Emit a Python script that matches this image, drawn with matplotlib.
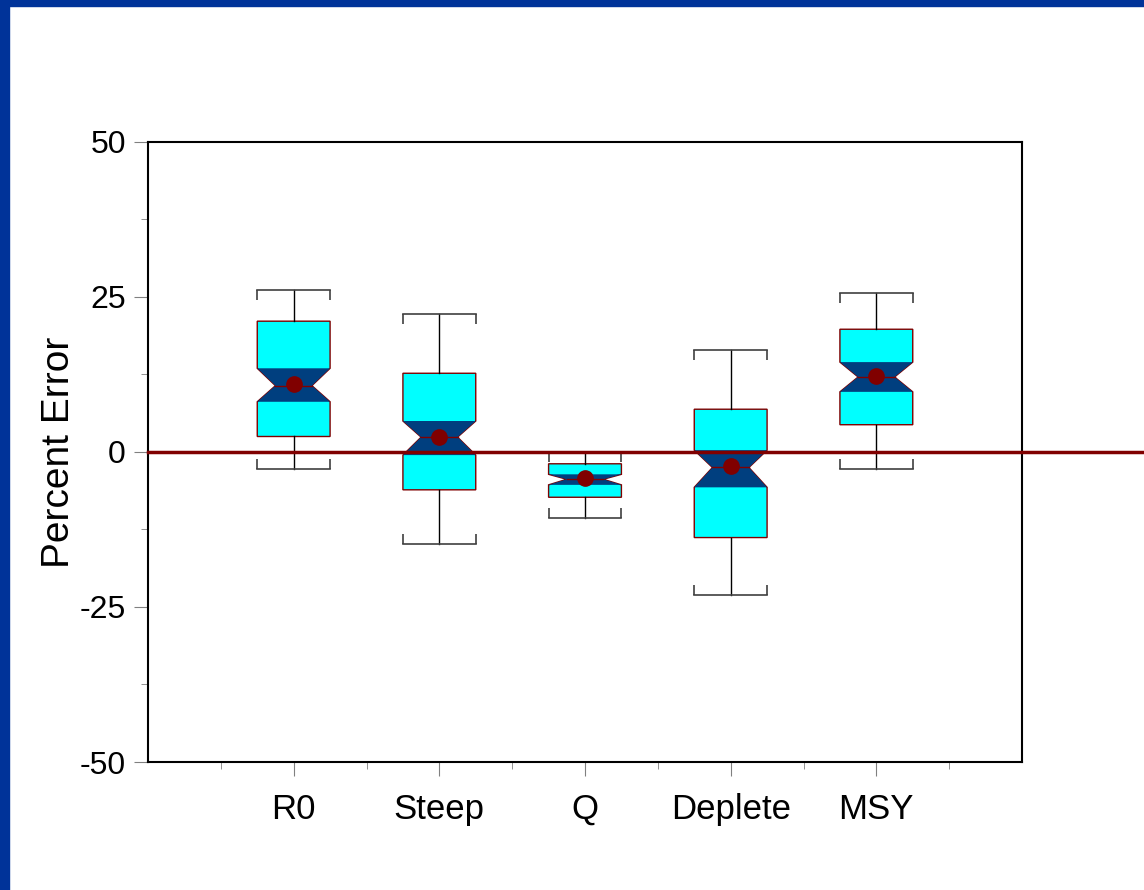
import matplotlib.pyplot as plt
import matplotlib as mpl
import numpy as np
from matplotlib.patches import Rectangle

mpl.rcParams["font.family"] = ["Liberation Sans", "DejaVu Sans"]

# values (percent error)
labels = ['R0', 'Steep', 'Q', 'Deplete', 'MSY']
whislo = [-2.7, -14.8, -10.7, -23.1, -2.8]
q1 = [2.5, -6.1, -7.3, -13.8, 4.4]
cilo = [8.1, -0.5, -5.3, -5.7, 9.7]
med = [10.7, 2.4, -4.4, -2.5, 12.1]
cihi = [13.5, 5.0, -3.6, 0.3, 14.5]
q3 = [21.1, 12.7, -1.9, 6.9, 19.8]
whishi = [26.1, 22.3, 0.0, 16.5, 25.7]
means = [11.0, 2.4, -4.2, -2.3, 12.3]

cyan = '#00FFFF'
navy = '#003F7F'
red = '#800000'

fig = plt.figure(figsize=(11.44, 8.9), dpi=100)
fig.patch.set_facecolor('white')
# blue frame at top and left
fig.patches.append(Rectangle((0, 1 - 6 / 890), 1, 6 / 890, transform=fig.transFigure,
                             color='#003399', zorder=0))
fig.patches.append(Rectangle((0, 0), 9 / 1144, 1, transform=fig.transFigure,
                             color='#003399', zorder=0))

ax = fig.add_axes([148 / 1144, 1 - 762 / 890, 874 / 1144, 620 / 890])

stats = []
for i in range(len(labels)):
    stats.append(dict(label=labels[i], whislo=whislo[i], q1=q1[i], med=med[i],
                      q3=q3[i], whishi=whishi[i], cilo=cilo[i], cihi=cihi[i],
                      mean=means[i]))

pos = np.arange(1, len(labels) + 1)
bw = 0.5
ax.bxp(stats, positions=pos, widths=bw, shownotches=True, showmeans=True,
       showfliers=False, patch_artist=True, capwidths=bw,
       boxprops=dict(facecolor=cyan, edgecolor=red, lw=1),
       medianprops=dict(color=red, lw=1),
       whiskerprops=dict(color='black', lw=1),
       capprops=dict(color='#404040', lw=1.2),
       meanprops=dict(marker='o', markerfacecolor=red, markeredgecolor=red,
                      markersize=11, zorder=5))

# dark blue bowtie over the notch, little end ticks on the caps
for i, x in enumerate(pos):
    h = bw / 2
    w = bw / 4
    xs = [x - h, x + h, x + w, x + h, x - h, x - w]
    ys = [cilo[i], cilo[i], med[i], cihi[i], cihi[i], med[i]]
    ax.fill(xs, ys, color=navy, zorder=2.5, lw=0)
    ax.plot([x - w, x + w], [med[i], med[i]], color=red, lw=1, zorder=2.6)
    ax.vlines([x - h, x + h], whishi[i] - 1.6, whishi[i], color='#404040', lw=1.2)
    ax.vlines([x - h, x + h], whislo[i], whislo[i] + 1.6, color='#404040', lw=1.2)

# zero line running out to the figure edge
ax.axhline(0, xmin=0, xmax=(1144 - 148) / 874, color=red, lw=2.5, clip_on=False, zorder=3)

ax.set_xlim(0, 6)
ax.set_ylim(-50, 50)
ax.set_xticks(pos, labels)
ax.set_xticks(np.arange(0.5, 6, 1), minor=True)
ax.set_yticks([-50, -25, 0, 25, 50])
ax.set_yticklabels(['-50', '-25', '0', '25', '50'])
ax.set_yticks([-37.5, -12.5, 12.5, 37.5], minor=True)
ax.tick_params(axis='y', which='major', labelsize=23, length=10, color='#808080', pad=6)
ax.tick_params(axis='x', which='major', labelsize=25, length=10, color='#808080', pad=12)
ax.tick_params(which='minor', length=5, color='#808080')
ax.set_ylabel('Percent Error', size=28, labelpad=2)
for s in ax.spines.values():
    s.set_linewidth(1.5)

plt.savefig('out.png', dpi=100)
